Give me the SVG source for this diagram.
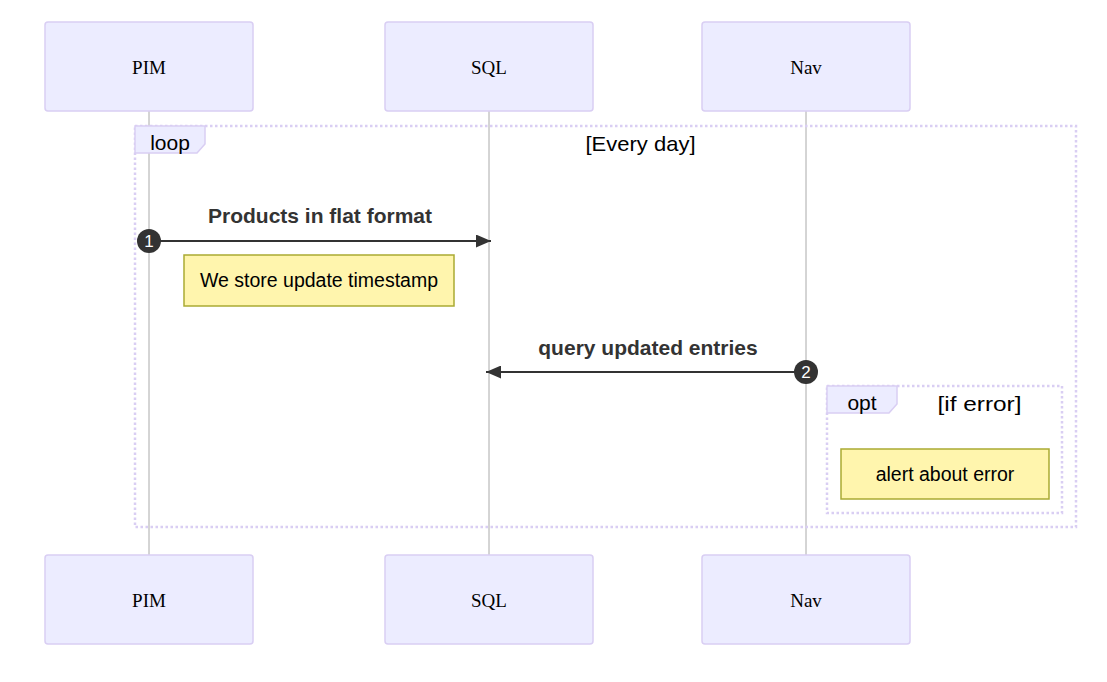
<svg xmlns="http://www.w3.org/2000/svg" width="1107" height="682" viewBox="0 0 1107 682">
<defs>
<style>
.actor{fill:#ECECFF;stroke:#D9CEF3;stroke-width:1.5}
.atext{font-family:"Liberation Serif",serif;font-size:19px;fill:#000;text-anchor:middle;dominant-baseline:central}
.life{stroke:#aaaaaa;stroke-width:1}
.frame{fill:none;stroke:#D9CEF3;stroke-width:2.5;stroke-dasharray:2.5,2.5}
.lbox{fill:#ECECFF;stroke:#D9CEF3;stroke-width:1.5}
.ltext{font-family:"Liberation Sans",sans-serif;font-size:21px;fill:#000;text-anchor:middle}
.msg{stroke:#333;stroke-width:2;fill:none}
.mtext{font-family:"Liberation Sans",sans-serif;font-size:21px;font-weight:bold;fill:#333;text-anchor:middle}
.note{fill:#FFF5AD;stroke:#AAAA33;stroke-width:1.5}
.ntext{font-family:"Liberation Sans",sans-serif;font-size:19.5px;fill:#000;text-anchor:middle;dominant-baseline:central}
.seq{fill:#333}
.stext{font-family:"Liberation Sans",sans-serif;font-size:17px;fill:#fff;text-anchor:middle;dominant-baseline:central}
</style>
<marker id="arrow" viewBox="0 0 15 13" refX="15" refY="6.5" markerWidth="15" markerHeight="13" markerUnits="userSpaceOnUse" orient="auto">
<path d="M0,0 L15,6.5 L0,13 z" fill="#333"/>
</marker>
</defs>
<rect width="1107" height="682" fill="#fff"/>
<g id="lifelines">
<line class="life" x1="149" y1="111" x2="149" y2="555"/>
<line class="life" x1="489" y1="111" x2="489" y2="555"/>
<line class="life" x1="806" y1="111" x2="806" y2="555"/>
</g>
<g id="actor-PIM-top"><rect class="actor" x="45" y="22" width="208" height="89" rx="3"/><text class="atext" x="149" y="67">PIM</text></g>
<g id="actor-SQL-top"><rect class="actor" x="385" y="22" width="208" height="89" rx="3"/><text class="atext" x="489" y="67">SQL</text></g>
<g id="actor-Nav-top"><rect class="actor" x="702" y="22" width="208" height="89" rx="3"/><text class="atext" x="806" y="67">Nav</text></g>
<g id="actor-PIM-bottom"><rect class="actor" x="45" y="555" width="208" height="89" rx="3"/><text class="atext" x="149" y="600">PIM</text></g>
<g id="actor-SQL-bottom"><rect class="actor" x="385" y="555" width="208" height="89" rx="3"/><text class="atext" x="489" y="600">SQL</text></g>
<g id="actor-Nav-bottom"><rect class="actor" x="702" y="555" width="208" height="89" rx="3"/><text class="atext" x="806" y="600">Nav</text></g>
<g id="loop">
<rect class="frame" x="135" y="126" width="941" height="401"/>
<polygon class="lbox" points="135,126 205,126 205,144 197,153 135,153"/>
<text class="ltext" x="170" y="150">loop</text>
<text class="ltext" x="640.5" y="151" textLength="110" lengthAdjust="spacingAndGlyphs">[Every day]</text>
</g>
<g id="opt">
<rect class="frame" x="827" y="386" width="235" height="127"/>
<polygon class="lbox" points="827,386 897,386 897,404 889,413 827,413"/>
<text class="ltext" x="862" y="410">opt</text>
<text class="ltext" x="979.5" y="411" textLength="84" lengthAdjust="spacingAndGlyphs">[if error]</text>
</g>
<g id="connectors">
<line class="msg" x1="149" y1="241" x2="491" y2="241" marker-end="url(#arrow)"/>
<text class="mtext" x="320" y="223">Products in flat format</text>
<line class="msg" x1="806" y1="372" x2="486" y2="372" marker-end="url(#arrow)"/>
<text class="mtext" x="648" y="355">query updated entries</text>
<circle class="seq" cx="149" cy="241" r="12"/><text class="stext" x="149" y="241">1</text>
<circle class="seq" cx="806" cy="372" r="12"/><text class="stext" x="806" y="372">2</text>
</g>
<g id="note1"><rect class="note" x="184" y="255" width="270" height="51"/><text class="ntext" x="319" y="280">We store update timestamp</text></g>
<g id="note2"><rect class="note" x="841" y="449" width="208" height="50"/><text class="ntext" x="945" y="474">alert about error</text></g>
</svg>
